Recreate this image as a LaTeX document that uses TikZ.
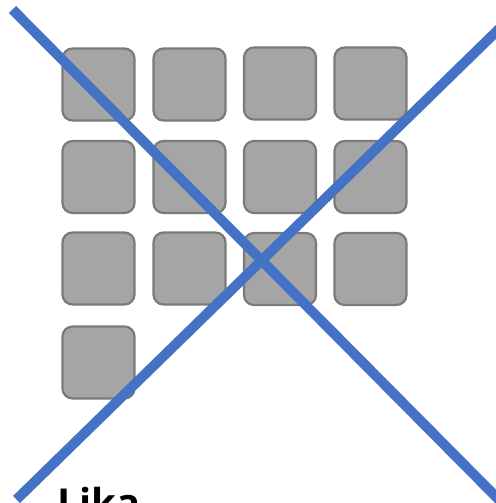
\documentclass[tikz,border=0pt]{standalone}
\usepackage{fontspec}
\setmainfont{Open Sans}
\definecolor{kruxblue}{HTML}{4472C4}
\definecolor{tilefill}{HTML}{A5A5A5}
\definecolor{tileline}{HTML}{7A7A7A}
\tikzset{
  tile/.style={draw=tileline, fill=tilefill, line width=2.2bp, rounded corners=10bp,
    minimum width=72bp, minimum height=72bp, inner sep=0pt},
  kruxline/.style={draw=kruxblue, line width=10bp}
}
\begin{document}
\begin{tikzpicture}[x=1bp, y=-1bp]
    \useasboundingbox (0,0) rectangle (496,503);
    \clip (0,0) rectangle (496,503);

    % Carreaux
    \node[tile] (t11) at (98.5, 84.5) {};
    \node[tile] (t12) at (189.5, 84.5) {};
    \node[tile] (t13) at (280, 83.5) {};
    \node[tile] (t14) at (370.5, 83.5) {};
    \node[tile] (t21) at (98.5, 177) {};
    \node[tile] (t22) at (189.5, 177) {};
    \node[tile] (t23) at (280, 177) {};
    \node[tile] (t24) at (370.5, 177) {};
    \node[tile] (t31) at (98.5, 268.5) {};
    \node[tile] (t32) at (189.5, 268.5) {};
    \node[tile] (t33) at (280, 269) {};
    \node[tile] (t34) at (370.5, 269) {};
    \node[tile] (t41) at (98.5, 362.5) {};

    % Texte
    \node[anchor=base west, inner sep=0pt, font=\fontsize{40}{48}\selectfont\bfseries] (lika) at (57, 517) {Lika};

    % Croix
    \coordinate (c1a) at (12.5, 9.5);
    \coordinate (c1b) at (520, 521);
    \coordinate (c2a) at (16.5, 499.5);
    \coordinate (c2b) at (520, 8.5);
    \draw[kruxline] (c1a) -- (c1b);
    \draw[kruxline] (c2a) -- (c2b);

\end{tikzpicture}
\end{document}
